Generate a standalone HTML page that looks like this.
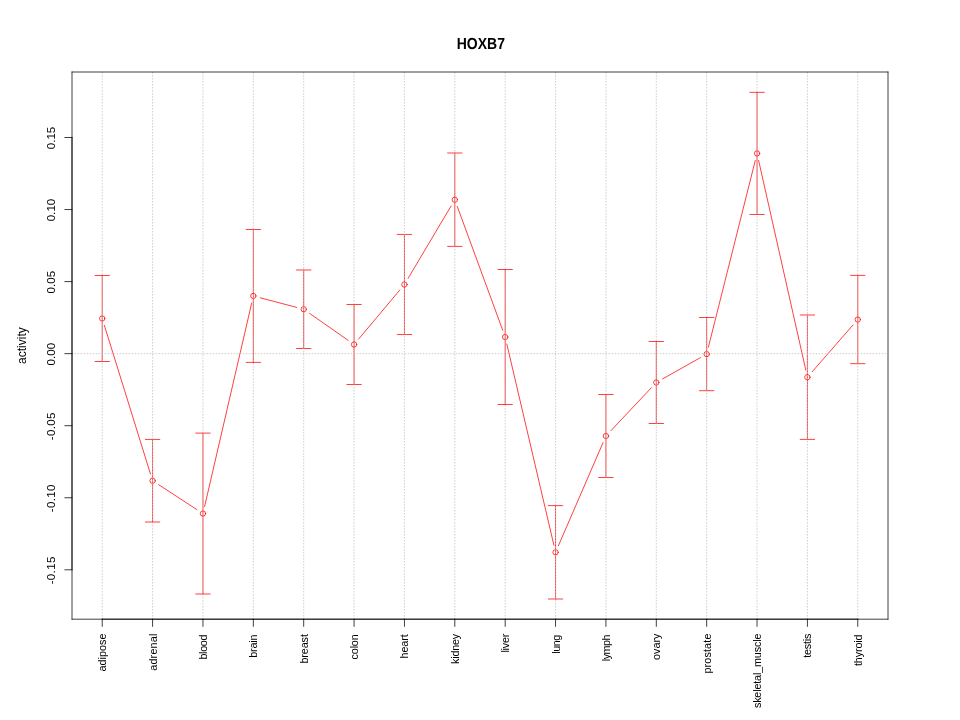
<!DOCTYPE html>
<html><head><meta charset="utf-8"><title>HOXB7</title>
<style>
html,body{margin:0;padding:0;background:#fff;width:960px;height:720px;overflow:hidden}
svg{display:block}
text{font-family:"Liberation Sans",Arial,sans-serif;fill:#000}
.t{font-size:12px}
.yt{font-size:11.5px}
.xl{font-size:10.8px}
.title{font-size:16px;font-weight:bold;text-rendering:geometricPrecision}
</style></head><body>
<svg width="960" height="720" viewBox="0 0 960 720" stroke-linecap="round" stroke-linejoin="round">
<rect width="960" height="720" fill="#fff"/>
<path d="M102.22 361.50V275.50M95.02 275.50H109.42M95.02 361.50H109.42M152.59 522.00V439.45M145.39 439.45H159.79M145.39 522.00H159.79M202.96 594.00V433.10M195.76 433.10H210.16M195.76 594.00H210.16M253.33 362.40V229.50M246.13 229.50H260.53M246.13 362.40H260.53M303.70 348.50V270.00M296.50 270.00H310.90M296.50 348.50H310.90M354.07 384.50V304.50M346.87 304.50H361.27M346.87 384.50H361.27M404.44 334.55V234.45M397.24 234.45H411.64M397.24 334.55H411.64M454.81 246.40V153.00M447.61 153.00H462.01M447.61 246.40H462.01M505.19 404.50V269.50M497.99 269.50H512.39M497.99 404.50H512.39M555.56 599.00V505.60M548.36 505.60H562.76M548.36 599.00H562.76M605.93 477.50V394.50M598.73 394.50H613.13M598.73 477.50H613.13M656.30 423.50V341.50M649.10 341.50H663.50M649.10 423.50H663.50M706.67 390.70V317.50M699.47 317.50H713.87M699.47 390.70H713.87M757.04 214.50V92.35M749.84 92.35H764.24M749.84 214.50H764.24M807.41 439.40V315.00M800.21 315.00H814.61M800.21 439.40H814.61M857.78 363.70V275.40M850.58 275.40H864.98M850.58 363.70H864.98" stroke="#FF0000" stroke-width="0.75" fill="none"/>
<path d="M104.36 325.38L150.46 473.85M158.62 484.66L196.93 509.62M204.59 506.54L251.71 302.96M260.29 297.79L296.74 307.41M309.60 313.38L348.18 340.37M358.70 338.99L399.82 290.01M408.12 278.31L451.14 205.89M457.29 206.46L502.71 330.24M506.83 344.01L553.92 545.29M558.42 545.69L603.06 442.61M610.86 430.76L651.36 387.74M662.57 378.96L700.39 357.64M708.42 347.12L755.28 160.41M758.62 160.45L805.83 370.18M812.14 371.78L853.04 324.97" stroke="#FF0000" stroke-width="0.75" fill="none"/>
<g stroke="#FF0000" stroke-width="0.75" fill="none"><circle cx="102.22" cy="318.50" r="2.7"/><circle cx="152.59" cy="480.73" r="2.7"/><circle cx="202.96" cy="513.55" r="2.7"/><circle cx="253.33" cy="295.95" r="2.7"/><circle cx="303.70" cy="309.25" r="2.7"/><circle cx="354.07" cy="344.50" r="2.7"/><circle cx="404.44" cy="284.50" r="2.7"/><circle cx="454.81" cy="199.70" r="2.7"/><circle cx="505.19" cy="337.00" r="2.7"/><circle cx="555.56" cy="552.30" r="2.7"/><circle cx="605.93" cy="436.00" r="2.7"/><circle cx="656.30" cy="382.50" r="2.7"/><circle cx="706.67" cy="354.10" r="2.7"/><circle cx="757.04" cy="153.43" r="2.7"/><circle cx="807.41" cy="377.20" r="2.7"/><circle cx="857.78" cy="319.55" r="2.7"/></g>
<path d="M102.22 619.20V72.00M152.59 619.20V72.00M202.96 619.20V72.00M253.33 619.20V72.00M303.70 619.20V72.00M354.07 619.20V72.00M404.44 619.20V72.00M454.81 619.20V72.00M505.19 619.20V72.00M555.56 619.20V72.00M605.93 619.20V72.00M656.30 619.20V72.00M706.67 619.20V72.00M757.04 619.20V72.00M807.41 619.20V72.00M857.78 619.20V72.00M72.00 353.65H888.00" stroke="#bebebe" stroke-width="0.75" stroke-dasharray="0.75 2.25" fill="none"/>
<path d="M72.0 72.0H888.0M888.0 72.0V619.20M888.0 619.20H72.0M72.0 619.20V72.0" stroke="#000" stroke-width="0.75" fill="none"/>
<path d="M102.22 619.20H857.78M102.22 619.20V626.40M152.59 619.20V626.40M202.96 619.20V626.40M253.33 619.20V626.40M303.70 619.20V626.40M354.07 619.20V626.40M404.44 619.20V626.40M454.81 619.20V626.40M505.19 619.20V626.40M555.56 619.20V626.40M605.93 619.20V626.40M656.30 619.20V626.40M706.67 619.20V626.40M757.04 619.20V626.40M807.41 619.20V626.40M857.78 619.20V626.40M72.00 569.80V137.50M72.00 137.50H64.80M72.00 209.55H64.80M72.00 281.60H64.80M72.00 353.65H64.80M72.00 425.70H64.80M72.00 497.75H64.80M72.00 569.80H64.80" stroke="#000" stroke-width="0.75" fill="none"/>
<text transform="translate(55.2 138.00) rotate(-90)" text-anchor="middle" class="yt" textLength="22.59" lengthAdjust="spacing">0.15</text>
<text transform="translate(55.2 210.05) rotate(-90)" text-anchor="middle" class="yt" textLength="22.59" lengthAdjust="spacing">0.10</text>
<text transform="translate(55.2 282.10) rotate(-90)" text-anchor="middle" class="yt" textLength="22.59" lengthAdjust="spacing">0.05</text>
<text transform="translate(55.2 354.15) rotate(-90)" text-anchor="middle" class="yt" textLength="22.59" lengthAdjust="spacing">0.00</text>
<text transform="translate(55.2 426.40) rotate(-90)" text-anchor="middle" class="yt" textLength="27.62" lengthAdjust="spacing">-0.05</text>
<text transform="translate(55.2 498.45) rotate(-90)" text-anchor="middle" class="yt" textLength="27.62" lengthAdjust="spacing">-0.10</text>
<text transform="translate(55.2 570.50) rotate(-90)" text-anchor="middle" class="yt" textLength="27.62" lengthAdjust="spacing">-0.15</text>
<text transform="translate(106.22 633.60) rotate(-90)" text-anchor="end" class="xl" textLength="37.83" lengthAdjust="spacing">adipose</text>
<text transform="translate(156.59 633.60) rotate(-90)" text-anchor="end" class="xl" textLength="37.23" lengthAdjust="spacing">adrenal</text>
<text transform="translate(206.96 634.45) rotate(-90)" text-anchor="end" class="xl" textLength="25.17" lengthAdjust="spacing">blood</text>
<text transform="translate(257.33 634.60) rotate(-90)" text-anchor="end" class="xl" textLength="23.22" lengthAdjust="spacing">brain</text>
<text transform="translate(307.70 634.10) rotate(-90)" text-anchor="end" class="xl" textLength="29.52" lengthAdjust="spacing">breast</text>
<text transform="translate(358.07 634.30) rotate(-90)" text-anchor="end" class="xl" textLength="25.11" lengthAdjust="spacing">colon</text>
<text transform="translate(408.44 634.30) rotate(-90)" text-anchor="end" class="xl" textLength="24.16" lengthAdjust="spacing">heart</text>
<text transform="translate(458.81 633.75) rotate(-90)" text-anchor="end" class="xl" textLength="30.27" lengthAdjust="spacing">kidney</text>
<text transform="translate(509.19 633.60) rotate(-90)" text-anchor="end" class="xl" textLength="19.00" lengthAdjust="spacing">liver</text>
<text transform="translate(559.56 634.70) rotate(-90)" text-anchor="end" class="xl" textLength="18.97" lengthAdjust="spacing">lung</text>
<text transform="translate(609.93 634.60) rotate(-90)" text-anchor="end" class="xl" textLength="26.56" lengthAdjust="spacing">lymph</text>
<text transform="translate(660.30 633.60) rotate(-90)" text-anchor="end" class="xl" textLength="26.41" lengthAdjust="spacing">ovary</text>
<text transform="translate(710.67 633.60) rotate(-90)" text-anchor="end" class="xl" textLength="40.02" lengthAdjust="spacing">prostate</text>
<text transform="translate(761.04 633.60) rotate(-90)" text-anchor="end" class="xl" textLength="74.51" lengthAdjust="spacing">skeletal_muscle</text>
<text transform="translate(811.41 633.60) rotate(-90)" text-anchor="end" class="xl" textLength="24.20" lengthAdjust="spacing">testis</text>
<text transform="translate(861.78 634.40) rotate(-90)" text-anchor="end" class="xl" textLength="31.62" lengthAdjust="spacing">thyroid</text>
<text transform="translate(480.85 49.0) scale(0.874 1.0)" text-anchor="middle" class="title">HOXB7</text>
<text transform="translate(25.8 345.6) rotate(-90)" text-anchor="middle" class="t">activity</text>
</svg>
</body></html>
